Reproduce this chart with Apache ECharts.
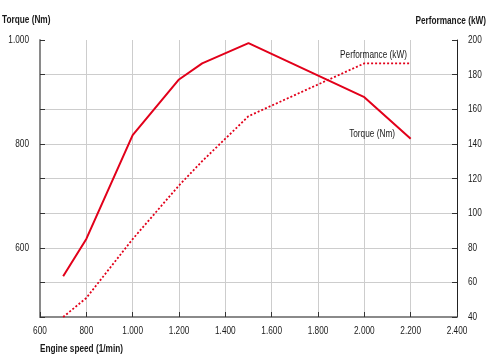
<!DOCTYPE html>
<html>
<head>
<meta charset="utf-8">
<script src="https://cdn.jsdelivr.net/npm/echarts@6/dist/echarts.min.js"></script>
<style>
html,body{margin:0;padding:0;background:#fff;}
#c{width:500px;height:355px;}
</style>
</head>
<body>
<div id="c"></div>
<script>
var rpm = [700, 800, 1000, 1200, 1300, 1500, 2000, 2200];
var torque = [545, 617, 817, 924, 955, 994, 890, 810];
var performance = [40, 51, 85, 116, 130, 156, 186.5, 186.5];
var xTickLabels = [600, 800, 1000, 1200, 1400, 1600, 1800, 2000, 2200, 2400];
var torqueTickLabels = [600, 800, 1000];
var perfTickLabels = [40, 60, 80, 100, 120, 140, 160, 180, 200];

var FONT = "'Liberation Sans', Arial, sans-serif";
var RED = '#e2001a';
var SX = 0.75;
function fmt(n){ return String(n).replace(/\B(?=(\d{3})+(?!\d))/g, '.'); }

var chart = echarts.init(document.getElementById('c'), null, {renderer:'canvas'});
var axisCommon = {
  axisTick:{show:true, inside:true, length:5, lineStyle:{color:'#333', width:1}},
  axisLabel:{show:false}
};
chart.setOption({
  animation:false,
  backgroundColor:'#fff',
  grid:{left:40, right:43, top:40, bottom:38, containLabel:false},
  xAxis:{
    type:'value', min:600, max:2400, interval:200,
    axisLine:{show:true, lineStyle:{color:'#8a8a8a', width:2}},
    axisTick:axisCommon.axisTick, axisLabel:{show:false},
    splitLine:{show:true, showMinLine:false, showMaxLine:false, lineStyle:{color:'#cdcdcd', width:1}}
  },
  yAxis:[{
    type:'value', min:1400/3, max:1000, interval:200/3, position:'left',
    axisLine:{show:true, lineStyle:{color:'#8a8a8a', width:2}},
    axisTick:axisCommon.axisTick, axisLabel:{show:false},
    splitLine:{show:false}
  },{
    type:'value', min:40, max:200, interval:20, position:'right',
    axisLine:{show:true, lineStyle:{color:'#222', width:1}},
    axisTick:axisCommon.axisTick, axisLabel:{show:false},
    splitLine:{show:true, showMinLine:false, showMaxLine:false, lineStyle:{color:'#cdcdcd', width:1}}
  }],
  series:[{
    name:'Torque (Nm)', type:'line', yAxisIndex:0, showSymbol:false, symbol:'none',
    data: rpm.map(function(x,i){return [x, torque[i]];}),
    lineStyle:{color:RED, width:2}, z:3
  },{
    name:'Performance (kW)', type:'line', yAxisIndex:1, showSymbol:false, symbol:'none',
    data: rpm.map(function(x,i){return [x, performance[i]];}),
    lineStyle:{color:RED, width:1.8, type:[2,2]}, z:3
  }]
});

function txt(text, x, y, align, bold){
  return {type:'text', x:x, y:y, scaleX:SX, scaleY:1, z:10, silent:true,
    style:{text:text, font:(bold?'bold ':'')+'11px '+FONT, fill:'#1a1a1a', align:align, verticalAlign:'middle'}};
}
var g = [];
var yBottom = chart.convertToPixel({yAxisIndex:1}, 40);
xTickLabels.forEach(function(v){
  g.push(txt(fmt(v), chart.convertToPixel({xAxisIndex:0}, v), yBottom + 14, 'center', false));
});
torqueTickLabels.forEach(function(v){
  g.push(txt(fmt(v), 29, chart.convertToPixel({yAxisIndex:0}, v), 'right', false));
});
perfTickLabels.forEach(function(v){
  g.push(txt(fmt(v), 468, chart.convertToPixel({yAxisIndex:1}, v), 'left', false));
});
g.push(txt('Torque (Nm)', 2, 20, 'left', true));
g.push(txt('Performance (kW)', 486, 20.5, 'right', true));
g.push(txt('Engine speed (1/min)', 40, 348.5, 'left', true));
g.push(txt('Performance (kW)', 407, 55, 'right', false));
g.push(txt('Torque (Nm)', 395, 134, 'right', false));
chart.setOption({graphic:g});
</script>
</body>
</html>
